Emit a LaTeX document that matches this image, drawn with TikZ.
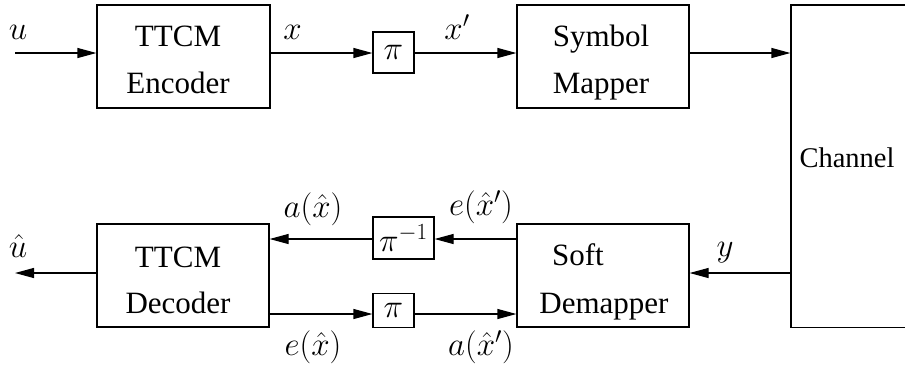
\documentclass[tikz,border=0pt]{standalone}
\usepackage{fix-cm}
\usepackage{fontspec}
\setmainfont{Liberation Serif}
\usetikzlibrary{arrows.meta}
\begin{document}
\begin{tikzpicture}[x=1pt,y=-1pt,
  box/.style={draw, line width=1.2pt, inner sep=0pt},
  txt/.style={inner sep=0pt, anchor=base, font=\fontsize{31}{37}\selectfont},
  mlab/.style={inner sep=0pt, anchor=base, font=\fontsize{33}{39}\selectfont},
  arr/.style={line width=1.2pt, -{Triangle[length=19pt,width=10pt]}}]
\useasboundingbox (0,0) rectangle (905,365);
\clip (0,0) rectangle (905,365);
% boxes
\node[box, minimum width=173pt, minimum height=103pt] (enc) at (183.5,56.5) {};
\node[box, minimum width=172pt, minimum height=103pt] (map) at (603,56.5) {};
\node[box, minimum width=41pt, minimum height=41pt, font=\fontsize{33}{39}\selectfont] (pia) at (393.5,52.5) {$\pi$};
\node[box, minimum width=139pt, minimum height=322.5pt] (chan) at (860.5,166.25) {};
\node[box, minimum width=172pt, minimum height=103pt] (dec) at (183,275.5) {};
\node[box, minimum width=172pt, minimum height=103pt] (dem) at (603,275.5) {};
\node[box, minimum width=61pt, minimum height=42pt, font=\fontsize{33}{39}\selectfont] (pib) at (403.5,238) {$\pi^{-1}$};
\node[box, minimum width=41pt, minimum height=34.5pt, font=\fontsize{33}{39}\selectfont] (pic) at (393.5,310.5) {$\pi$};
% box texts
\node[txt] (encA) at (178,46) {TTCM};
\node[txt] (encB) at (178,93) {Encoder};
\node[txt] (mapA) at (601,46) {Symbol};
\node[txt] (mapB) at (601,93) {Mapper};
\node[txt] (decA) at (178,267) {TTCM};
\node[txt] (decB) at (178,313) {Decoder};
\node[txt] (demA) at (578,265) {Soft};
\node[txt] (demB) at (604,313) {Demapper};
\node[txt, font=\fontsize{28.5}{34}\selectfont] (chanT) at (847,167) {Channel};
% signal labels
\node[mlab] (lu) at (18,39) {$u$};
\node[mlab] (lx) at (292.5,39) {$x$};
\node[mlab] (lxp) at (457,39) {$x'$};
\node[mlab] (lax) at (313,217) {$a(\hat{x})$};
\node[mlab] (lexp) at (481,215) {$e(\hat{x}')$};
\node[mlab] (lex) at (313,355) {$e(\hat{x})$};
\node[mlab] (laxp) at (481,355) {$a(\hat{x}')$};
\node[mlab] (ly) at (725,256) {$y$};
\node[mlab] (luh) at (18,257) {$\hat{u}$};
% connectors
\coordinate (uin) at (15,53);
\coordinate (uout) at (15,273);
\coordinate (lvlA) at (0,239);
\coordinate (lvlB) at (0,314);
\draw[arr] (uin) -- (uin -| enc.west);
\draw[arr] (uin -| enc.east) -- (uin -| pia.west);
\draw[arr] (uin -| pia.east) -- (uin -| map.west);
\draw[arr] (uin -| map.east) -- (uin -| chan.west);
\draw[arr] (uout -| chan.west) -- (uout -| dem.east);
\draw[arr] (uout -| dec.west) -- (uout);
\draw[arr] (lvlA -| dem.west) -- (lvlA -| pib.east);
\draw[arr] (lvlA -| pib.west) -- (lvlA -| dec.east);
\draw[arr] (lvlB -| dec.east) -- (lvlB -| pic.west);
\draw[arr] (lvlB -| pic.east) -- (lvlB -| dem.west);
\end{tikzpicture}
\end{document}
